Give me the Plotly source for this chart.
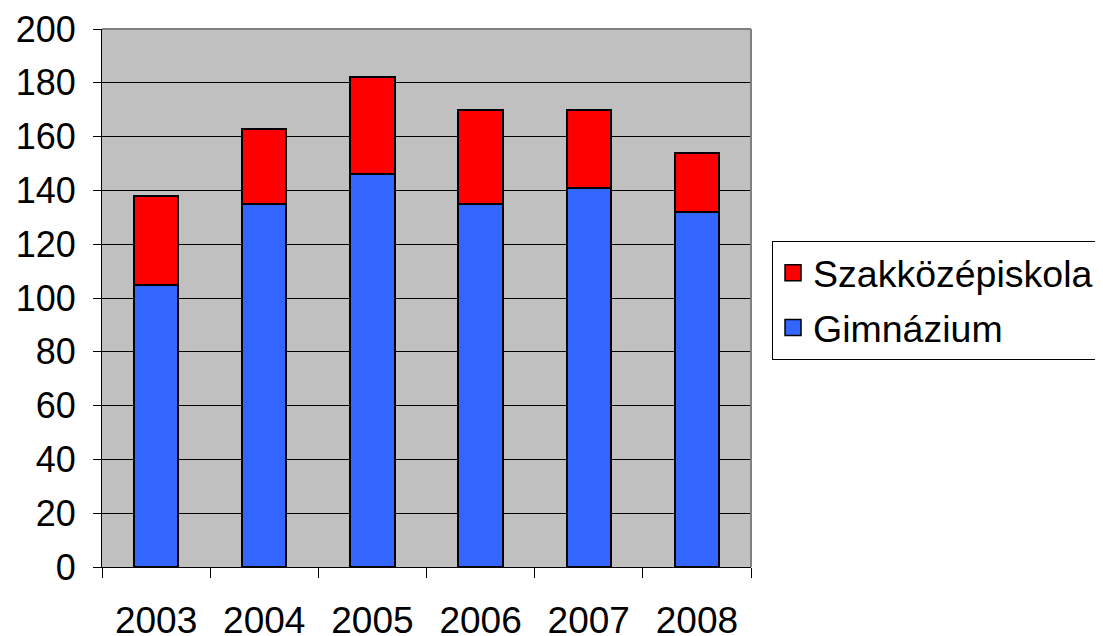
import plotly.graph_objects as go

years = ['2003', '2004', '2005', '2006', '2007', '2008']
gimnazium = [105, 135, 146, 135, 141, 132]
szakkozep = [33, 28, 36, 35, 29, 22]
y_ticks = [0, 20, 40, 60, 80, 100, 120, 140, 160, 180, 200]

FONT = 'Liberation Sans, Arial, sans-serif'

fig = go.Figure()

# stacked bars (legend drawn with separate marker traces so the swatches are bigger)
fig.add_trace(go.Bar(
    x=years, y=gimnazium, name='Gimnázium',
    marker=dict(color='#3366FF', line=dict(color='black', width=2)),
    showlegend=False
))
fig.add_trace(go.Bar(
    x=years, y=szakkozep, name='Szakközépiskola',
    marker=dict(color='#FF0000', line=dict(color='black', width=2)),
    showlegend=False
))

# legend entries
fig.add_trace(go.Scatter(
    x=[None], y=[None], mode='markers', name='Szakközépiskola',
    legendgroup='a',
    marker=dict(symbol='square', size=18, color='#FF0000',
                line=dict(color='black', width=1.5))
))
fig.add_trace(go.Scatter(
    x=[None], y=[None], mode='markers', name='Gimnázium',
    legendgroup='b',
    marker=dict(symbol='square', size=18, color='#3366FF',
                line=dict(color='black', width=1.5))
))

# page body has an 8px margin, so the figure is 8px smaller than the window
fig.update_layout(
    width=1095, height=628,
    barmode='stack',
    bargap=0.59,
    plot_bgcolor='#C0C0C0',
    paper_bgcolor='white',
    font=dict(family=FONT, color='black', size=34),
    margin=dict(l=94, r=352, t=21, b=69, autoexpand=False),
    xaxis=dict(
        type='category',
        showline=True, linecolor='black', linewidth=1,
        ticks='outside', tickson='boundaries', ticklen=10,
        tickcolor='black', tickwidth=1,
        ticklabelstandoff=21,
        showgrid=False,
        automargin=False,
        tickfont=dict(size=37)
    ),
    yaxis=dict(
        range=[0, 200],
        tickvals=y_ticks,
        showline=True, linecolor='black', linewidth=1,
        ticks='outside', ticklen=8, tickcolor='black', tickwidth=1,
        ticklabelstandoff=10,
        showgrid=True, gridcolor='black', gridwidth=1,
        zeroline=False,
        automargin=False,
        tickfont=dict(size=36)
    ),
    legend=dict(
        x=1.0324, y=0.606, xanchor='left', yanchor='top',
        bgcolor='white', bordercolor='black', borderwidth=1,
        font=dict(size=37.5),
        traceorder='grouped', tracegroupgap=3,
        itemsizing='trace'
    ),
    shapes=[
        dict(type='line', xref='paper', yref='paper', x0=0, x1=1, y0=1, y1=1,
             line=dict(color='#808080', width=2), layer='above'),
        dict(type='line', xref='paper', yref='paper', x0=1, x1=1, y0=0, y1=1,
             line=dict(color='#808080', width=2), layer='above'),
    ],
    dragmode=False
)

fig.write_html("out.html")
